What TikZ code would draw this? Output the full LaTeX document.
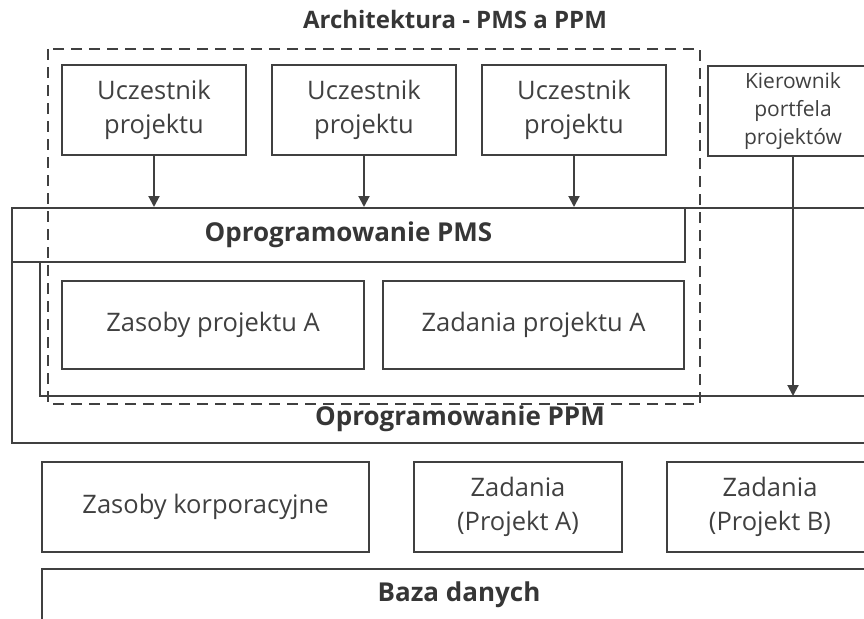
\documentclass[tikz,border=0pt]{standalone}
\usepackage{fontspec}
\setmainfont{Open Sans}
\usetikzlibrary{arrows.meta}

\definecolor{ink}{HTML}{404040}

\tikzset{
  box/.style={draw=ink, line width=2pt, text=ink, align=center, inner sep=0pt,
    font=\fontsize{25.5}{34}\selectfont},
  smallbox/.style={box, font=\fontsize{21}{28}\selectfont},
  heading/.style={text=ink!85!black, font=\bfseries\fontsize{26}{30}\selectfont},
  frame/.style={draw=ink, line width=2pt},
  arr/.style={draw=ink, line width=2pt, -{Triangle[length=11pt,width=11pt]}}
}

\begin{document}
\begin{tikzpicture}[x=1pt,y=-1pt]
\useasboundingbox (0,0) rectangle (864,618);
\clip (0,0) rectangle (864,618);
% title
\node[heading, font=\bfseries\fontsize{24}{28}\selectfont] (title) at (455,20) {Architektura - PMS a PPM};
% PPM software
\draw[frame] (12,208) rectangle (900,443);
\node[heading] (ppm) at (460,419) {Oprogramowanie PPM};
\coordinate (ppmline) at (40,396);
\draw[frame] (40,262) -- (ppmline) -- (900,396);
% PMS software
\node[box, minimum width=673pt, minimum height=54pt, font=\bfseries\fontsize{26}{30}\selectfont, text=ink!85!black] (pms) at (348.5,235) {Oprogramowanie PMS};
\node[box, minimum width=302pt, minimum height=88pt] (zasA) at (213,325) {Zasoby projektu A};
\node[box, minimum width=301pt, minimum height=88pt] (zadA) at (533.5,325) {Zadania projektu A};
% users
\foreach \i/\x in {1/154, 2/364, 3/574} {
  \node[box, minimum width=184pt, minimum height=90pt] (u\i) at (\x,110) {Uczestnik\\projektu};
  \draw[arr] (u\i.south) -- (u\i.south |- pms.north);
}
\node[smallbox, minimum width=170pt, minimum height=90pt] (kier) at (793,111) {Kierownik\\portfela\\projektów};
\draw[arr] (kier.south) -- (kier.south |- ppmline);
% PMS scope
\draw[ink, line width=2.8pt, dash pattern=on 11pt off 7pt] (48,49) rectangle (700,404);
% database
\node[box, minimum width=327pt, minimum height=90pt] (korp) at (205.5,507) {Zasoby korporacyjne};
\node[box, minimum width=208pt, minimum height=90pt] (projA) at (518,507) {Zadania\\(Projekt A)};
\node[box, minimum width=206pt, minimum height=90pt] (projB) at (770,507) {Zadania\\(Projekt B)};
\draw[frame] (42,569) rectangle (900,660);
\node[heading] (baza) at (459,595) {Baza danych};
\end{tikzpicture}
\end{document}
